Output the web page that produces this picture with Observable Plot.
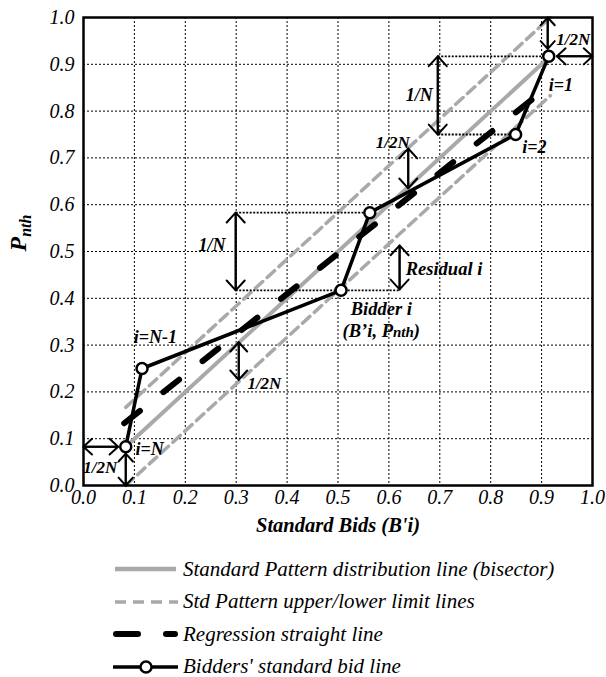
<!DOCTYPE html>
<html><head><meta charset="utf-8">
<script src="https://cdn.jsdelivr.net/npm/d3@7"></script>
<script src="https://cdn.jsdelivr.net/npm/@observablehq/plot@0.6"></script>
</head><body style="margin:0;background:#fff;font-family:'Liberation Serif',serif;">
<div id="chart"></div><div id="legend" style="margin-left:113px;margin-top:3px;font-family:'Liberation Serif',serif;"></div>
<script>
// ---- data ----
const ticks = [0, 0.1, 0.2, 0.3, 0.4, 0.5, 0.6, 0.7, 0.8, 0.9, 1.0];
const gridTicks = [0.1, 0.2, 0.3, 0.4, 0.5, 0.6, 0.7, 0.8, 0.9];
const bidX = [0.083, 0.115, 0.506, 0.5625, 0.849, 0.914];
const bidP = [0.083, 0.25, 0.417, 0.583, 0.75, 0.917];
const bisectorX = [0.083, 0.917];
const bisectorY = [0.083, 0.917];
const upperX = [0.083, 0.917];
const upperY = [0.167, 1.0];
const lowerX = [0.083, 0.917];
const lowerY = [0.0, 0.833];
const regX = [0.08, 0.885];
const regY = [0.133, 0.828];
// double arrows [x1, y1, x2, y2]
const arrows = [
  [0.912, 1.0, 0.912, 0.933],
  [0.930, 0.917, 1.0, 0.917],
  [0.696, 0.917, 0.696, 0.75],
  [0.638, 0.72, 0.638, 0.635],
  [0.299, 0.583, 0.299, 0.417],
  [0.621, 0.513, 0.621, 0.419],
  [0.305, 0.306, 0.305, 0.226],
  [0.083, 0.068, 0.083, 0.0],
  [0.0, 0.083, 0.068, 0.083]
];
// dotted guide lines [x1, y, x2]
const guides = [
  [0.696, 0.917, 0.914],
  [0.696, 0.75, 0.849],
  [0.299, 0.583, 0.5625],
  [0.299, 0.417, 0.621]
];
// annotation labels [text, x, y, anchor, size]
const labels = [
  ["1/2N", 0.929, 0.953, "start", 17],
  ["i=1", 0.914, 0.855, "start", 18],
  ["1/N", 0.686, 0.833, "end", 18],
  ["i=2", 0.862, 0.722, "start", 18],
  ["1/2N", 0.574, 0.733, "start", 17],
  ["1/N", 0.279, 0.513, "end", 18],
  ["i=N-1", 0.141, 0.316, "middle", 18],
  ["1/2N", 0.322, 0.218, "start", 17],
  ["Residual i", 0.633, 0.4615, "start", 18.5],
  ["Bidder i", 0.585, 0.378, "middle", 18.5],
  ["(B’i, Pnth)", 0.585, 0.331, "middle", 18.5],
  ["i=N", 0.102, 0.077, "start", 18],
  ["1/2N", 0.033, 0.038, "middle", 17]
];
const xLabel = "Standard Bids (B'i)";
const yLabel = "Pnth";
const legendItems = [
  "Standard Pattern distribution line (bisector)",
  "Std Pattern upper/lower limit lines",
  "Regression straight line",
  "Bidders' standard bid line"
];

const serif = "'Liberation Serif', serif";
const gray = "#a9a9a9";
const labelMarks = ["start", "middle", "end"].map(a =>
  Plot.text(labels.filter(d => d[3] === a), {
    x: d => d[1], y: d => d[2], text: d => d[0], textAnchor: a, fontSize: d => d[4],
    fontFamily: serif, fontWeight: "bold", fontStyle: "italic", fill: "black"
  })
);
const tickStyle = {fontFamily: serif, fontStyle: "italic", fontSize: 20, fill: "black"};

const chart = Plot.plot({
  width: 606, height: 550,
  marginLeft: 83, marginRight: 14, marginTop: 17, marginBottom: 65,
  style: "font-family: 'Liberation Serif', serif; font-size: 20px; font-style: italic; background: white; overflow: visible;",
  x: {domain: [0, 1]},
  y: {domain: [0, 1]},
  marks: [
    Plot.gridX(gridTicks, {stroke: "black", strokeOpacity: 1, strokeWidth: 1, strokeDasharray: "2,2"}),
    Plot.gridY(gridTicks, {stroke: "black", strokeOpacity: 1, strokeWidth: 1, strokeDasharray: "2,2"}),
    Plot.axisX(ticks, {tickSize: 0, tickPadding: 4, tickFormat: d3.format(".1f"), label: null, ...tickStyle}),
    Plot.axisY(ticks, {tickSize: 0, tickPadding: 9, tickFormat: d3.format(".1f"), label: null, ...tickStyle}),
    Plot.line(upperX, {x: upperX, y: upperY, stroke: gray, strokeWidth: 3.5, strokeDasharray: "10,6"}),
    Plot.line(lowerX, {x: lowerX, y: lowerY, stroke: gray, strokeWidth: 3.5, strokeDasharray: "10,6"}),
    Plot.line(bisectorX, {x: bisectorX, y: bisectorY, stroke: gray, strokeWidth: 4}),
    Plot.line(regX, {x: regX, y: regY, stroke: "black", strokeWidth: 6, strokeDasharray: "20,30", strokeLinecap: "round"}),
    Plot.line(bidX, {x: bidX, y: bidP, stroke: "black", strokeWidth: 3.5}),
    Plot.link(guides, {x1: d => d[0], y1: d => d[1], x2: d => d[2], y2: d => d[1], stroke: "black", strokeWidth: 1.8, strokeDasharray: "2,1.5"}),
    Plot.arrow(arrows, {x1: d => d[0], y1: d => d[1], x2: d => d[2], y2: d => d[3], stroke: "black", strokeWidth: 2, headLength: 10, headAngle: 85}),
    Plot.arrow(arrows, {x1: d => d[2], y1: d => d[3], x2: d => d[0], y2: d => d[1], stroke: "black", strokeWidth: 2, headLength: 10, headAngle: 85}),
    Plot.dot(bidX, {x: bidX, y: bidP, r: 5.5, fill: "white", stroke: "black", strokeWidth: 2.5}),
    Plot.frame({stroke: "black", strokeWidth: 2.5}),
    ...labelMarks,
    Plot.text([xLabel], {frameAnchor: "bottom", dy: 46, fontFamily: serif, fontWeight: "bold", fontStyle: "italic", fontSize: 20.5, fill: "black"}),
    Plot.text([yLabel], {frameAnchor: "left", dx: -65, rotate: -90, fontFamily: serif, fontWeight: "bold", fontStyle: "italic", fontSize: 24, fill: "black"})
  ]
});
document.getElementById("chart").append(chart);

// subscripts
d3.select(chart).selectAll("text").each(function () {
  const t = this.textContent;
  if (t === "Pnth") {
    d3.select(this).text("P").append("tspan").attr("font-size", 16).attr("dy", "0.3em").text("nth");
  } else if (t === "(B’i, Pnth)") {
    const s = d3.select(this).text("(B’i, P");
    s.append("tspan").attr("font-size", 15).text("nth");
    s.append("tspan").text(")");
  }
});

// legend
const swatches = [
  g => g.append("line").attr("x1", 2).attr("x2", 63).attr("y1", 10).attr("y2", 10).attr("stroke", gray).attr("stroke-width", 4.5),
  g => g.append("line").attr("x1", 2).attr("x2", 65).attr("y1", 10).attr("y2", 10).attr("stroke", gray).attr("stroke-width", 3.5).attr("stroke-dasharray", "11,7"),
  g => g.append("line").attr("x1", 3).attr("x2", 62).attr("y1", 10).attr("y2", 10).attr("stroke", "black").attr("stroke-width", 6).attr("stroke-linecap", "round").attr("stroke-dasharray", "22,28"),
  g => {
    g.append("line").attr("x1", 0).attr("x2", 65).attr("y1", 10).attr("y2", 10).attr("stroke", "black").attr("stroke-width", 3.5);
    g.append("circle").attr("cx", 33).attr("cy", 10).attr("r", 5.5).attr("fill", "white").attr("stroke", "black").attr("stroke-width", 2.5);
  }
];
const legend = d3.select("#legend");
legendItems.forEach((txt, i) => {
  const row = legend.append("div")
    .style("display", "flex").style("align-items", "center").style("height", "32.5px")
    .style("font-family", serif).style("font-style", "italic").style("font-size", "21px").style("color", "#000")
    .style("white-space", "nowrap");
  const svg = row.append("svg").attr("width", 66).attr("height", 20).style("margin-right", "4px").style("flex", "none");
  swatches[i](svg);
  row.append("span").text(txt);
});
</script></body></html>
